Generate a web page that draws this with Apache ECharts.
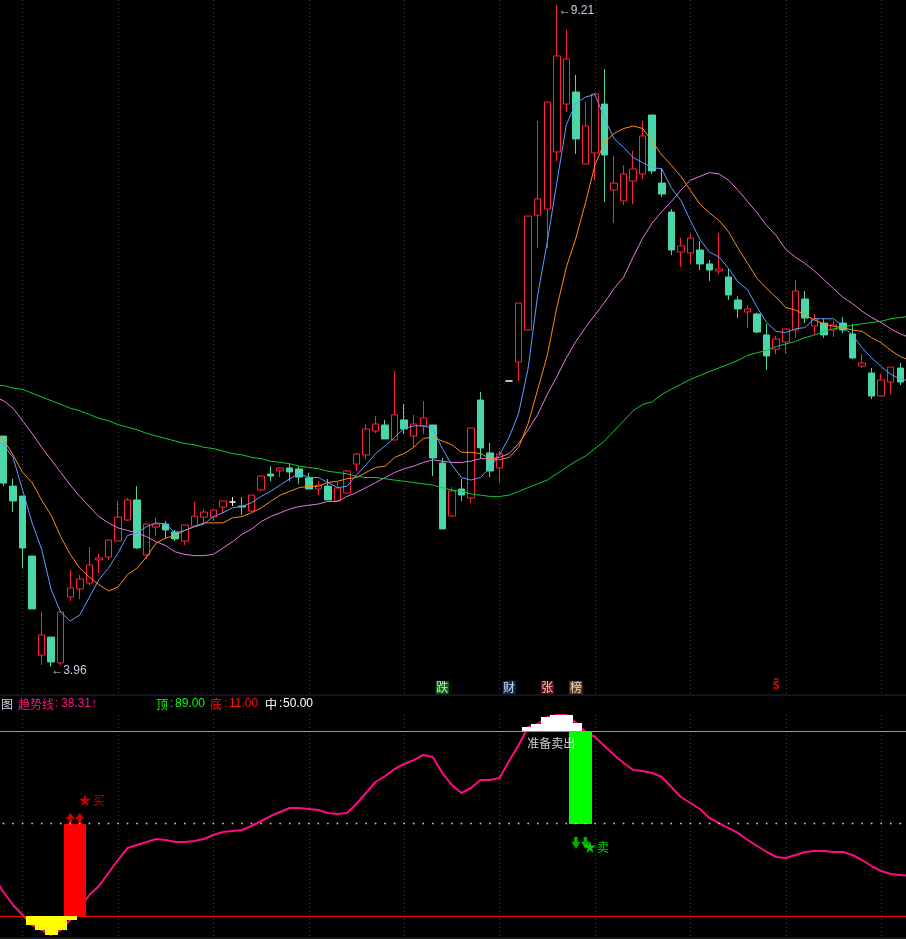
<!DOCTYPE html>
<html>
<head>
<meta charset="utf-8">
<style>html,body{margin:0;padding:0;background:#000;}#c{width:906px;height:939px;}</style>
<script src="https://cdn.jsdelivr.net/npm/echarts@6/dist/echarts.min.js"></script>
</head>
<body>
<div id="c"></div>
<script>
// Candles: trading days left to right
const opens = [
5.789,5.392,5.313,4.837,4.051,4.194,3.988,4.511,4.576,4.623,
4.806,4.829,4.956,5.123,5.282,4.845,5.067,5.091,5.028,4.956,
5.075,5.146,5.146,5.226,5.266,5.234,5.194,5.361,5.488,5.512,
5.536,5.528,5.456,5.369,5.392,5.274,5.337,5.567,5.639,5.829,
5.877,5.758,5.917,5.789,5.869,5.877,5.575,5.154,5.369,5.298,
6.075,5.655,5.536,6.226,6.377,6.631,7.543,7.591,8.044,8.424,
8.520,7.948,8.036,8.424,7.742,7.655,7.813,7.869,8.337,7.797,
7.567,7.250,7.242,7.266,7.155,7.099,7.052,6.869,6.774,6.758,
6.592,6.480,6.536,6.631,6.877,6.663,6.686,6.631,6.686,6.599,
6.345,6.290,6.107,6.218,6.329];
const closes = [
5.416,5.274,4.901,4.417,4.210,3.996,4.393,4.584,4.655,4.766,
4.822,4.964,5.146,5.282,4.901,5.091,5.091,5.044,4.973,5.083,
5.154,5.186,5.202,5.274,5.266,5.226,5.321,5.472,5.472,5.536,
5.504,5.464,5.369,5.400,5.282,5.377,5.512,5.647,5.845,5.885,
5.766,5.957,5.845,5.885,5.933,5.615,5.052,5.353,5.321,5.853,
5.695,5.512,5.647,6.226,6.845,7.535,7.671,8.440,8.806,8.782,
8.147,8.250,8.504,8.020,7.797,7.869,7.909,8.171,7.893,7.710,
7.266,7.298,7.361,7.155,7.107,7.115,6.909,6.798,6.798,6.615,
6.425,6.560,6.639,6.940,6.726,6.718,6.592,6.671,6.631,6.409,
6.369,6.107,6.234,6.337,6.218];
const lows = [
5.392,5.186,4.743,4.417,3.972,3.960,3.970,4.480,4.496,4.607,
4.702,4.806,4.956,5.115,4.893,4.814,4.996,4.981,4.956,4.925,
5.075,5.099,5.115,5.178,5.234,5.162,5.186,5.353,5.432,5.464,
5.432,5.408,5.369,5.321,5.282,5.266,5.337,5.512,5.607,5.813,
5.766,5.758,5.805,5.695,5.805,5.472,5.052,5.154,5.274,5.258,
5.607,5.464,5.416,6.226,6.226,6.631,7.282,7.282,7.972,8.361,
8.028,7.948,7.821,7.647,7.480,7.623,7.631,7.829,7.869,7.687,
7.226,7.131,7.155,7.107,7.020,7.075,6.869,6.726,6.647,6.607,
6.314,6.440,6.440,6.568,6.686,6.592,6.568,6.576,6.607,6.401,
6.329,6.083,6.107,6.123,6.194];
const highs = [
5.789,5.449,5.313,4.837,4.393,4.194,4.393,4.726,4.686,4.908,
4.853,4.964,5.274,5.298,5.392,5.091,5.139,5.115,5.044,5.083,
5.266,5.210,5.202,5.274,5.305,5.305,5.321,5.472,5.551,5.536,
5.567,5.551,5.496,5.432,5.449,5.424,5.520,5.655,5.885,5.949,
5.917,6.306,6.043,5.957,6.067,5.877,5.615,5.385,5.449,5.853,
6.139,5.734,5.671,6.226,6.845,7.535,8.290,8.440,9.210,9.012,
8.655,8.440,8.512,8.702,8.012,7.940,8.052,8.290,8.337,7.917,
7.591,7.361,7.393,7.337,7.187,7.401,7.115,6.901,6.829,6.766,
6.679,6.584,6.639,7.028,6.940,6.758,6.718,6.702,6.734,6.679,
6.440,6.329,6.282,6.337,6.369];

// Moving averages: one extra session before and after the visible candles
const maBlue = [
5.76,5.72,5.62,5.36,5.10,4.89,4.57,4.39,4.32,4.37,
4.51,4.65,4.74,4.86,5.00,5.02,5.07,5.10,5.09,5.02,
5.04,5.07,5.09,5.15,5.18,5.22,5.23,5.26,5.31,5.35,
5.40,5.45,5.49,5.46,5.46,5.42,5.38,5.39,5.48,5.56,
5.65,5.71,5.78,5.85,5.87,5.87,5.85,5.69,5.56,5.46,
5.44,5.46,5.54,5.64,5.78,5.97,6.33,6.91,7.33,7.80,
8.26,8.43,8.48,8.50,8.31,8.15,8.08,8.00,7.96,7.92,
7.91,7.76,7.66,7.50,7.35,7.25,7.21,7.12,7.01,6.95,
6.81,6.69,6.62,6.61,6.64,6.65,6.72,6.72,6.72,6.66,
6.59,6.49,6.41,6.34,6.28,6.24,6.23];
const maOrange = [
5.79,5.76,5.64,5.50,5.42,5.28,5.16,4.99,4.85,4.74,
4.67,4.61,4.56,4.59,4.69,4.74,4.83,4.94,4.98,5.00,
5.04,5.07,5.10,5.10,5.10,5.14,5.15,5.18,5.22,5.27,
5.32,5.35,5.38,5.39,5.39,5.42,5.43,5.45,5.46,5.50,
5.54,5.55,5.62,5.65,5.70,5.77,5.78,5.75,5.72,5.66,
5.66,5.65,5.61,5.60,5.62,5.70,5.89,6.16,6.43,6.81,
7.13,7.36,7.64,7.94,8.12,8.19,8.23,8.25,8.23,8.13,
8.02,7.94,7.85,7.74,7.63,7.56,7.50,7.41,7.28,7.16,
7.04,6.96,6.89,6.81,6.79,6.75,6.71,6.68,6.66,6.65,
6.63,6.62,6.57,6.53,6.47,6.42,6.39];
const maPink = [
6.10,6.07,6.01,5.91,5.81,5.70,5.60,5.50,5.40,5.31,
5.23,5.15,5.10,5.06,5.04,5.02,4.99,4.95,4.92,4.87,
4.85,4.84,4.84,4.85,4.90,4.95,5.01,5.05,5.11,5.15,
5.18,5.21,5.23,5.24,5.25,5.27,5.27,5.31,5.34,5.38,
5.42,5.46,5.50,5.53,5.55,5.58,5.60,5.59,5.58,5.58,
5.59,5.61,5.61,5.62,5.65,5.73,5.84,5.96,6.12,6.26,
6.41,6.54,6.65,6.75,6.85,6.96,7.05,7.21,7.36,7.48,
7.57,7.65,7.74,7.82,7.85,7.88,7.87,7.82,7.74,7.65,
7.56,7.46,7.38,7.27,7.21,7.16,7.10,7.03,6.96,6.89,
6.84,6.78,6.73,6.69,6.64,6.60,6.57];
const maGreen = [
6.19,6.19,6.17,6.16,6.13,6.10,6.07,6.04,6.01,5.99,
5.96,5.93,5.91,5.88,5.86,5.84,5.81,5.79,5.77,5.75,
5.73,5.72,5.70,5.69,5.67,5.65,5.64,5.62,5.61,5.59,
5.58,5.57,5.55,5.54,5.53,5.51,5.50,5.49,5.47,5.46,
5.46,5.45,5.44,5.43,5.42,5.41,5.40,5.38,5.36,5.35,
5.33,5.32,5.31,5.31,5.32,5.35,5.38,5.41,5.44,5.49,
5.54,5.59,5.63,5.69,5.75,5.83,5.91,5.99,6.04,6.06,
6.12,6.16,6.20,6.24,6.27,6.30,6.33,6.36,6.39,6.43,
6.45,6.47,6.50,6.52,6.54,6.57,6.59,6.62,6.64,6.65,
6.67,6.68,6.69,6.70,6.72,6.73,6.74];

// Indicator pane
const trendLine = [
27.02,21.12,15.64,11.43,7.21,5.10,3.00,5.10,9.32,14.38,
19.86,23.65,29.13,34.61,39.67,40.94,42.20,43.47,43.05,42.20,
42.20,42.62,43.47,45.15,46.42,46.84,47.26,48.95,51.06,53.16,
54.85,56.54,56.54,56.12,55.69,54.43,54.01,54.43,58.22,62.86,
67.50,70.03,72.98,75.09,76.77,78.88,78.04,71.29,66.23,62.86,
64.97,68.34,68.34,69.18,76.35,83.10,90.69,91.95,94.90,95.75,
95.75,92.37,88.58,86.47,82.68,78.88,75.51,72.56,72.14,71.29,
69.61,65.39,61.17,58.64,56.12,52.32,50.21,48.10,46.00,43.05,
40.52,37.99,35.88,35.46,36.72,37.99,38.41,38.41,37.99,37.99,
36.72,34.61,32.08,29.98,28.71,28.29,27.87];
const levelTop = 89, levelBottom = 11, levelMid = 50;

const yellowSticks = [[4,11,7.21],[5,11,5.10],[6,11,3.00],[7,11,5.10],[8,11,9.32]];
const redSticks = [[8,11,50],[9,11,50]];
const greenSticks = [[61,89,50],[62,89,50]];
const whiteSticks = [[56,89,90.69],[57,89,91.95],[58,89,94.90],[59,89,95.75],[60,89,95.75],[61,89,92.37]];

const buyArrows = [[8,52.3],[9,52.3]];
const sellArrows = [[61,41.8],[62,41.8]];
const buyStar = [[9,59.9]];
const sellStar = [[62,40.1]];
const sellNote = [[58,83.9]];
const priceTags = [
  {idx:47, text:'跌', color:'#0a7a14'},
  {idx:54, text:'财', color:'#0c3c78'},
  {idx:58, text:'张', color:'#8a0c14'},
  {idx:61, text:'榜', color:'#8a4a14'}
];
const dollarTag = [[82,3.81]];
const tagLevel = 3.794;
const gridMarks = [3,13,23,33,43,53,63,73,83,93];
const highLabel = {idx:59, value:9.21, text:'9.21'};
const lowLabel = {idx:6, value:3.96, text:'3.96'};

const categories = trendLine.map((_, i) => String(i));
const candleData = [['-','-','-','-']]
  .concat(opens.map((o,i) => ({value:[o, closes[i], lows[i], highs[i]]})))
  .concat([['-','-','-','-']]);

const CN = '"Noto Sans CJK SC","Liberation Sans",sans-serif';
const NUM = '"Liberation Sans",Arial,sans-serif';
const CANDLE_UP = '#ff2040', CANDLE_DOWN = '#4ad6a8';
const STAR = 'path://M50 0 L61 35 L98 35 L68 57 L79 91 L50 70 L21 91 L32 57 L2 35 L39 35Z';
const ARROW_UP = 'path://M5 0 L10 6 L7 6 L7 10 L3 10 L3 6 L0 6Z';
const ARROW_DOWN = 'path://M3 0 L7 0 L7 4 L10 4 L5 10 L0 4 L3 4Z';
const DOT_LINE = {type:[1,3], color:'#3c3c4a', width:1};

function stickSeries(name, data, color, z) {
  return {
    name, type:'custom', xAxisIndex:1, yAxisIndex:1, z, silent:true,
    encode:{x:0, y:[1,2]}, data,
    renderItem(params, api) {
      const a = api.coord([api.value(0), api.value(1)]);
      const b = api.coord([api.value(0), api.value(2)]);
      const y0 = Math.round(Math.min(a[1], b[1]));
      const y1 = Math.round(Math.max(a[1], b[1]));
      return {type:'rect', shape:{x:Math.round(a[0]-6.6), y:y0, width:13, height:y1-y0},
              style:{fill:color}};
    }
  };
}
function lineSeries(name, data, color, extra) {
  return Object.assign({
    name, type:'line', data, showSymbol:false, symbol:'none', z:5, silent:true,
    lineStyle:{color, width:1}, itemStyle:{color}
  }, extra || {});
}
function gridLines(name, axis, from, to) {
  return {
    name, type:'line', xAxisIndex:axis, yAxisIndex:axis, data:[], z:1, silent:true, symbol:'none',
    markLine:{z:1, silent:true, symbol:'none', animation:false, label:{show:false}, lineStyle:DOT_LINE,
      data:gridMarks.map(k => [{coord:[k, from]},{coord:[k, to]}])}
  };
}

const option = {
  backgroundColor:'#000',
  animation:false,
  grid:[
    {left:-10.81, top:0, width:925.38, height:695, outerBoundsMode:'none', containLabel:false},
    {left:-10.81, top:695, width:925.38, height:243, outerBoundsMode:'none', containLabel:false, show:true, borderColor:'#2b2b36', borderWidth:1, backgroundColor:'transparent'}
  ],
  xAxis:[
    {type:'category', gridIndex:0, data:categories, show:false, boundaryGap:true},
    {type:'category', gridIndex:1, data:categories, show:false, boundaryGap:true}
  ],
  yAxis:[
    {type:'value', gridIndex:0, min:3.734, max:9.25, show:false, scale:true},
    {type:'value', gridIndex:1, min:1.73, max:104.18, show:false, scale:true}
  ],
  series:[
    gridLines('grid upper', 0, 9.25, 3.74),
    gridLines('grid lower', 1, 95.75, 2.15),
    {
      name:'K', type:'candlestick', xAxisIndex:0, yAxisIndex:0, z:3, silent:true,
      barWidth:7, data:candleData,
      itemStyle:{color:'#000', color0:CANDLE_DOWN, borderColor:CANDLE_UP, borderColor0:CANDLE_DOWN, borderColorDoji:'#ffffff', borderWidth:1},
      markPoint:{
        silent:true, symbol:'circle', symbolSize:0, animation:false,
        data:[
          {coord:[highLabel.idx, highLabel.value], label:{show:true, position:'right', distance:2, offset:[0,6], formatter:'←'+highLabel.text, color:'#c4ccdc', fontFamily:NUM, fontSize:12}},
          {coord:[lowLabel.idx, lowLabel.value], label:{show:true, position:'right', distance:0, offset:[0,4], formatter:'←'+lowLabel.text, color:'#c4ccdc', fontFamily:NUM, fontSize:12}}
        ]
      }
    },
    lineSeries('MA60', maGreen, '#10c832'),
    lineSeries('MA30', maPink, '#e878dc'),
    lineSeries('MA10', maOrange, '#ff8c14'),
    lineSeries('MA5', maBlue, '#5f9cff'),
    {
      name:'tags', type:'scatter', xAxisIndex:0, yAxisIndex:0, z:8, silent:true,
      symbol:'rect', symbolSize:13,
      data:priceTags.map(t => ({value:[t.idx, tagLevel], itemStyle:{color:t.color},
        label:{show:true, position:'inside', formatter:t.text, color:'#fff', fontFamily:CN, fontSize:12}}))
    },
    {
      name:'dollar', type:'scatter', xAxisIndex:0, yAxisIndex:0, z:8, silent:true,
      symbolSize:0, data:dollarTag,
      label:{show:true, position:'inside', formatter:'ŝ', color:'#ff1010', fontFamily:'"Noto Sans",sans-serif', fontSize:14, fontWeight:'bold'}
    },

    // indicator pane
    lineSeries('趋势线', trendLine, '#ff0a80', {
      xAxisIndex:1, yAxisIndex:1, z:4, lineStyle:{color:'#ff0a80', width:2}
    }),
    stickSeries('yellow', yellowSticks, '#ffff00', 6),
    stickSeries('red', redSticks, '#ff0000', 6),
    stickSeries('green', greenSticks, '#00ff00', 6),
    stickSeries('white', whiteSticks, '#ffffff', 6),
    {
      name:'levels', type:'line', xAxisIndex:1, yAxisIndex:1, data:[], z:7, silent:true, symbol:'none',
      markLine:{silent:true, symbol:'none', animation:false, label:{show:false},
        data:[
          {yAxis:levelTop, lineStyle:{type:'solid', color:'#00ff00', width:1}},
          {yAxis:levelBottom, lineStyle:{type:'solid', color:'#ff0000', width:1}}
        ]}
    },
    {
      name:'中', type:'scatter', xAxisIndex:1, yAxisIndex:1, z:7, silent:true,
      symbol:'rect', symbolSize:1.6, itemStyle:{color:'#ffffff'},
      data:categories.map((_, i) => [i, levelMid])
    },
    {
      name:'buy arrows', type:'scatter', xAxisIndex:1, yAxisIndex:1, z:8, silent:true,
      symbol:ARROW_UP, symbolSize:[9,10], symbolKeepAspect:false, itemStyle:{color:'#ff0000'}, data:buyArrows
    },
    {
      name:'sell arrows', type:'scatter', xAxisIndex:1, yAxisIndex:1, z:8, silent:true,
      symbol:ARROW_DOWN, symbolSize:[9,12], itemStyle:{color:'#00d800'}, data:sellArrows
    },
    {
      name:'buy', type:'scatter', xAxisIndex:1, yAxisIndex:1, z:9, silent:true,
      symbol:STAR, symbolSize:12, symbolOffset:[5,0], itemStyle:{color:'#ff0000'}, data:buyStar,
      label:{show:true, position:'right', distance:2, offset:[0,0], formatter:'买', color:'#ff0000', fontFamily:CN, fontSize:12}
    },
    {
      name:'sell', type:'scatter', xAxisIndex:1, yAxisIndex:1, z:9, silent:true,
      symbol:STAR, symbolSize:12, symbolOffset:[4.5,0], itemStyle:{color:'#00ff00'}, data:sellStar,
      label:{show:true, position:'right', distance:1, offset:[0,0], formatter:'卖', color:'#00ff00', fontFamily:CN, fontSize:12}
    },
    {
      name:'note', type:'scatter', xAxisIndex:1, yAxisIndex:1, z:9, silent:true,
      symbolSize:0, data:sellNote,
      label:{show:true, position:'inside', offset:[4,0], formatter:'准备卖出', color:'#ffffff', fontFamily:CN, fontSize:12}
    }
  ],
  graphic:[
    {t:'图', x:1, c:'#c8d4e4', f:CN},
    {t:'趋势线', x:18, c:'#ff1480', f:CN},
    {t:':', x:55, c:'#ff1480', f:NUM},
    {t:'38.31', x:61, c:'#ff1480', f:NUM},
    {t:'↑', x:91, c:'#ff1480', f:NUM},
    {t:'顶', x:156, c:'#00ff00', f:CN},
    {t:':', x:170, c:'#00ff00', f:NUM},
    {t:'89.00', x:175, c:'#00ff00', f:NUM},
    {t:'底', x:210, c:'#ff1010', f:CN},
    {t:':', x:224, c:'#ff1010', f:NUM},
    {t:'11.00', x:229, c:'#ff1010', f:NUM},
    {t:'中', x:265, c:'#ffffff', f:CN},
    {t:':', x:279, c:'#ffffff', f:NUM},
    {t:'50.00', x:283, c:'#ffffff', f:NUM}
  ].map(d => ({type:'text', silent:true, z:20, x:d.x, y:704,
    style:{text:d.t, fill:d.c, font:'12px '+d.f, textVerticalAlign:'middle'}}))
};

const chart = echarts.init(document.getElementById('c'), null, {renderer:'canvas', width:906, height:939});
chart.setOption(option);
</script>
</body>
</html>
